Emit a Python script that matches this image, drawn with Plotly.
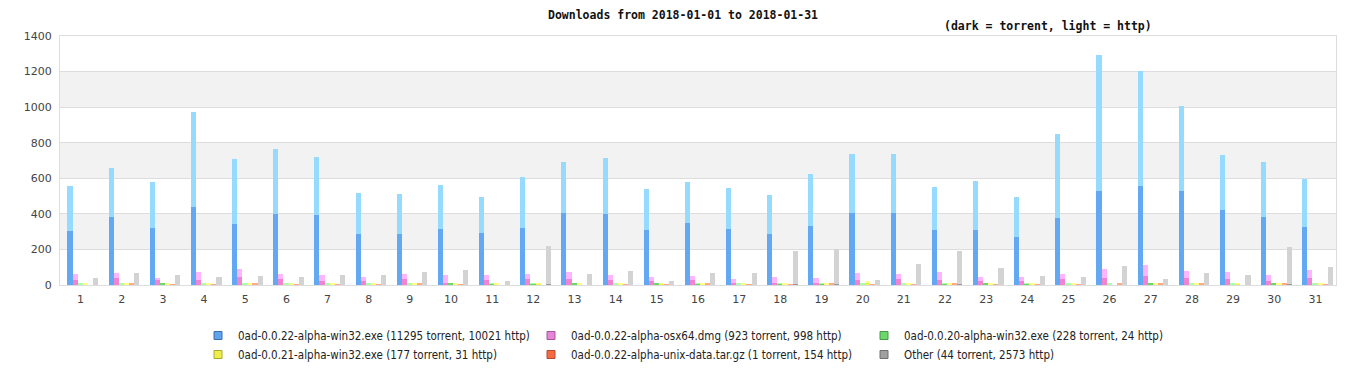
import plotly.graph_objects as go

days = list(range(1, 32))
tick_labels = [str(d) for d in days]

files = [
    "0ad-0.0.22-alpha-win32.exe (11295 torrent, 10021 http)",
    "0ad-0.0.22-alpha-osx64.dmg (923 torrent, 998 http)",
    "0ad-0.0.20-alpha-win32.exe (228 torrent, 24 http)",
    "0ad-0.0.21-alpha-win32.exe (177 torrent, 31 http)",
    "0ad-0.0.22-alpha-unix-data.tar.gz (1 torrent, 154 http)",
    "Other (44 torrent, 2573 http)",
]

win22_torrent = [304, 382, 321, 436, 343, 399, 394, 287, 287, 315, 293, 321, 405, 399, 309, 349,
                 315, 287, 332, 405, 405, 309, 309, 270, 377, 526, 557, 529, 422, 382, 326]
win22_http = [250, 275, 258, 536, 365, 365, 325, 230, 224, 247, 202, 286, 286, 315, 231, 230,
              230, 219, 292, 331, 331, 242, 276, 225, 472, 767, 646, 477, 309, 309, 270]

osx_torrent = [29, 42, 29, 29, 47, 35, 21, 21, 35, 14, 29, 35, 35, 29, 21, 29,
               14, 14, 14, 29, 35, 29, 21, 21, 35, 42, 49, 42, 35, 21, 42]
osx_http = [33, 26, 10, 44, 43, 27, 35, 24, 27, 42, 27, 27, 38, 27, 24, 22,
            20, 31, 25, 39, 27, 44, 24, 24, 27, 48, 61, 37, 38, 35, 42]

win20_torrent = [5, 5, 11, 5, 5, 5, 5, 5, 5, 11, 10, 10, 11, 5, 11, 10,
                 5, 10, 10, 5, 5, 10, 11, 10, 5, 5, 7, 5, 5, 11, 5]
win20_http = [1, 1, 0, 1, 1, 1, 1, 1, 1, 0, 1, 1, 0, 1, 0, 1,
              1, 1, 1, 1, 1, 1, 0, 1, 1, 1, 0, 1, 1, 0, 1]

win21_torrent = [5, 5, 5, 5, 5, 5, 5, 5, 5, 5, 5, 10, 5, 5, 10, 5,
                 5, 5, 5, 15, 5, 5, 5, 5, 5, 0, 5, 5, 10, 5, 5]
win21_http = [1, 1, 1, 1, 1, 1, 1, 1, 1, 1, 1, 1, 1, 1, 1, 1,
              1, 1, 1, 2, 1, 1, 1, 1, 1, 0, 1, 1, 1, 1, 1]

unix_torrent = [0, 0, 0, 0, 0, 0, 0, 0, 0, 0, 0, 0, 0, 0, 0, 0,
                0, 0, 0, 0, 0, 0, 0, 0, 0, 0, 1, 0, 0, 0, 0]
unix_http = [0, 6, 5, 5, 6, 5, 5, 5, 6, 5, 0, 0, 0, 5, 5, 6,
             5, 5, 6, 5, 5, 6, 5, 5, 5, 6, 10, 11, 0, 11, 5]

other_torrent = [1, 1, 1, 1, 1, 1, 1, 1, 1, 1, 1, 3, 1, 1, 1, 1,
                 1, 3, 3, 1, 2, 3, 1, 1, 1, 2, 1, 1, 1, 3, 2]
other_http = [38, 67, 55, 44, 50, 44, 55, 55, 72, 83, 22, 215, 61, 78, 22, 67,
              67, 188, 200, 27, 116, 188, 95, 50, 44, 105, 33, 67, 55, 211, 99]

torrent = [win22_torrent, osx_torrent, win20_torrent, win21_torrent, unix_torrent, other_torrent]
http = [win22_http, osx_http, win20_http, win21_http, unix_http, other_http]

dark_colors = ["#62a8f2", "#f283d2", "#66d966", "#eeee50", "#ff8550", "#9a9a9a"]
light_colors = ["#96dbfd", "#ffb4ff", "#aaffaa", "#ffff88", "#ffaa80", "#d3d3d3"]
legend_colors = ["#5fa3ee", "#e884d8", "#6cd86c", "#eeee4a", "#f86a44", "#a0a0a0"]
legend_borders = ["#3f6fa8", "#a0589a", "#449944", "#aaaa30", "#b04a30", "#707070"]

bar_w = 0.124
start_off = -0.32

fig = go.Figure()
for i, name in enumerate(files):
    off = start_off + i * bar_w
    fig.add_trace(go.Bar(
        x=days, y=torrent[i], name=name, offset=off, width=bar_w,
        marker=dict(color=dark_colors[i], line=dict(width=0)),
        legendgroup=name, showlegend=False,
    ))
for i, name in enumerate(files):
    off = start_off + i * bar_w
    fig.add_trace(go.Bar(
        x=days, y=http[i], base=torrent[i], name=name, offset=off, width=bar_w,
        marker=dict(color=light_colors[i], line=dict(width=0)),
        legendgroup=name, showlegend=False,
    ))
for i, name in enumerate(files):
    fig.add_trace(go.Scatter(
        x=[None], y=[None], mode="markers", name=name, legendgroup=name, showlegend=True,
        marker=dict(symbol="square", size=8, color=legend_colors[i],
                    line=dict(color=legend_borders[i], width=1)),
    ))

shapes = []
for lo in [200, 600, 1000]:
    shapes.append(dict(type="rect", xref="paper", yref="y", x0=0, x1=1, y0=lo, y1=lo + 200,
                       fillcolor="#f2f2f2", line=dict(width=0), layer="below"))

# page has an 8px body margin; plot area wanted at page x 60..1336, y 36..285
L, R, T, B = 52, 38, 28, 103
W, H = 1366, 380
pw = W - L - R
ph = H - T - B

def px_x(p):
    return (p - 60) / pw

def px_y(p):
    return (285 - p) / ph

fig.update_layout(
    width=W, height=H,
    margin=dict(l=L, r=R, t=T, b=B, autoexpand=False),
    barmode="overlay",
    plot_bgcolor="white", paper_bgcolor="white",
    shapes=shapes,
    font=dict(family="DejaVu Sans", size=11, color="#444"),
    xaxis=dict(range=[0.5, 31.5], tickmode="array", tickvals=days, ticktext=tick_labels,
               showgrid=False, zeroline=False, showline=True, linecolor="#dddddd",
               mirror=True, ticks="", ticklabelstandoff=4, tickfont=dict(size=11, color="#444")),
    yaxis=dict(range=[0, 1400], tickmode="array", tickvals=list(range(0, 1401, 200)),
               showgrid=True, gridcolor="#dddddd", zeroline=False, showline=True,
               linecolor="#dddddd", mirror=True, ticks="", ticklabelstandoff=5,
               tickfont=dict(size=11, color="#444")),
    legend=dict(orientation="h", x=px_x(198), xanchor="left", y=px_y(321), yanchor="top",
                entrywidth=288, entrywidthmode="pixels", traceorder="normal",
                font=dict(family="DejaVu Sans Condensed, DejaVu Sans", size=11.5, color="#222"),
                itemwidth=30, tracegroupgap=0, bgcolor="rgba(0,0,0,0)"),
    annotations=[
        dict(text="<b>Downloads from 2018-01-01 to 2018-01-31</b>", xref="paper", yref="paper",
             x=px_x(683), y=px_y(15), xanchor="center", yanchor="middle", showarrow=False,
             font=dict(family="DejaVu Sans Mono", size=11.5, color="#111")),
        dict(text="<b>(dark = torrent, light = http)</b>", xref="paper", yref="paper",
             x=px_x(1154), y=px_y(26.5), xanchor="right", yanchor="middle", showarrow=False,
             font=dict(family="DejaVu Sans Mono", size=11.5, color="#111")),
    ],
    bargap=0,
)

fig.write_html("out.html")
